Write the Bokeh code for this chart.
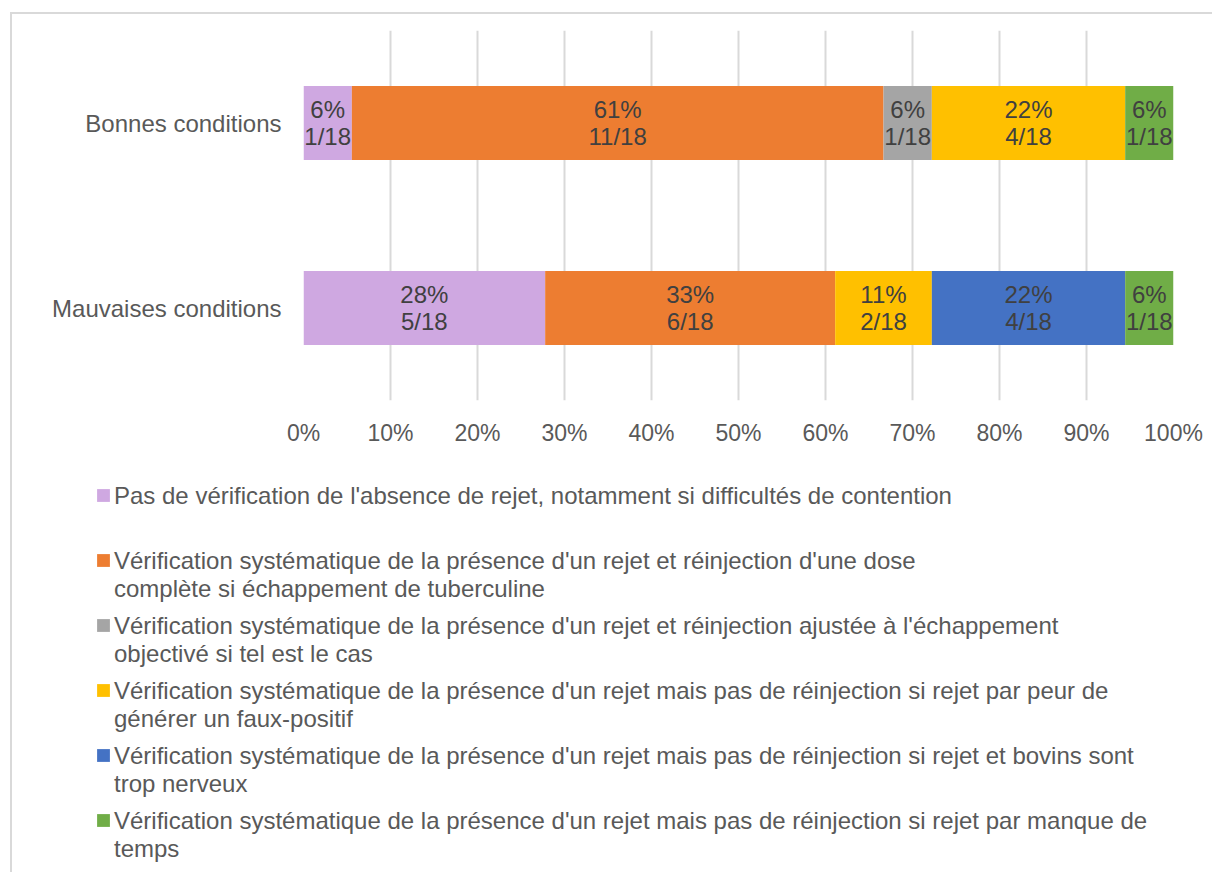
from bokeh.plotting import figure
from bokeh.layouts import column
from bokeh.models import (ColumnDataSource, FactorRange, Range1d, FixedTicker,
                          NumeralTickFormatter, Legend, LegendItem)
from bokeh.core.properties import value
from bokeh.embed import file_html
from bokeh.resources import INLINE

# ---------------- data ----------------
categories = ["Bonnes conditions", "Mauvaises conditions"]
total = 18
series_names = [
    "Pas de vérification de l'absence de rejet, notamment si difficultés de contention\n ",
    "Vérification systématique de la présence d'un rejet et réinjection d'une dose\ncomplète si échappement de tuberculine",
    "Vérification systématique de la présence d'un rejet et réinjection ajustée à l'échappement\nobjectivé si tel est le cas",
    "Vérification systématique de la présence d'un rejet mais pas de réinjection si rejet par peur de\ngénérer un faux-positif",
    "Vérification systématique de la présence d'un rejet mais pas de réinjection si rejet et bovins sont\ntrop nerveux",
    "Vérification systématique de la présence d'un rejet mais pas de réinjection si rejet par manque de\ntemps",
]
counts_pas_verif = [1, 5]
counts_reinj_complete = [11, 6]
counts_reinj_ajustee = [1, 0]
counts_peur_faux_pos = [4, 2]
counts_bovins_nerveux = [0, 4]
counts_manque_temps = [1, 1]
series_counts = [counts_pas_verif, counts_reinj_complete, counts_reinj_ajustee,
                 counts_peur_faux_pos, counts_bovins_nerveux, counts_manque_temps]
colors = ["#CFA8E1", "#ED7D31", "#A5A5A5", "#FFC000", "#4472C4", "#70AD47"]
x_ticks = [0, 0.1, 0.2, 0.3, 0.4, 0.5, 0.6, 0.7, 0.8, 0.9, 1.0]

FONT = "Liberation Sans"
W = 1200

stack_keys = [f"s{i}" for i in range(len(series_counts))]
data = {"cat": categories}
for k, c in zip(stack_keys, series_counts):
    data[k] = [v / total for v in c]
src = ColumnDataSource(data)

# ---------------- bar chart ----------------
p = figure(
    width=W, height=441,
    y_range=FactorRange(factors=list(reversed(categories))),
    x_range=Range1d(0, 1),
    output_backend="svg", toolbar_location=None,
    min_border_left=291, min_border_right=39,
    min_border_top=16, min_border_bottom=55,
)
p.frame_align = False
p.outline_line_color = None

p.hbar_stack(stack_keys, y="cat", height=0.4, color=colors,
             source=src, line_color=None)

# labels in the bars
lx, ly, lt = [], [], []
for ci, cat in enumerate(categories):
    cum = 0.0
    for c in series_counts:
        v = c[ci]
        if v > 0:
            lx.append((cum + v / 2) / total)
            ly.append(cat)
            lt.append(f"{round(v / total * 100)}%\n{v}/{total}")
        cum += v
p.text(x=lx, y=ly, text=lt, text_align="center", text_baseline="middle",
       text_font=value(FONT), text_font_size="24px", text_color="#404040",
       text_line_height=1.0)

p.xaxis.ticker = FixedTicker(ticks=x_ticks)
p.xaxis.formatter = NumeralTickFormatter(format="0%")
p.xaxis.axis_line_color = None
p.xaxis.major_tick_line_color = None
p.xaxis.minor_tick_line_color = None
p.xaxis.major_label_text_font = FONT
p.xaxis.major_label_text_font_size = "23px"
p.xaxis.major_label_text_color = "#595959"
p.xaxis.major_label_standoff = 13

p.yaxis.axis_line_color = None
p.yaxis.major_tick_line_color = None
p.yaxis.minor_tick_line_color = None
p.yaxis.major_label_text_font = FONT
p.yaxis.major_label_text_font_size = "24px"
p.yaxis.major_label_text_color = "#595959"
p.yaxis.major_label_standoff = 16

p.xgrid.grid_line_color = "#D9D9D9"
p.xgrid.grid_line_width = 2
p.ygrid.grid_line_color = None

# ---------------- legend panel ----------------
q = figure(width=W, height=417, x_range=Range1d(0, 1),
           y_range=FactorRange(factors=list(reversed(categories))),
           output_backend="svg", toolbar_location=None,
           min_border_left=83, min_border_top=27, min_border_right=0,
           min_border_bottom=0)
q.frame_align = False
q.outline_line_color = None
q.axis.visible = False
q.grid.grid_line_color = None
# same series, zero-height bars: they only carry the legend keys
keys = q.hbar_stack(stack_keys, y="cat", height=0, color=colors,
                    source=src, line_color=None)

common = dict(orientation="vertical", padding=0, margin=0,
              border_line_color=None, background_fill_alpha=0,
              label_text_font=FONT, label_text_font_size="24px",
              label_text_color="#595959", label_text_line_height=1.0)

# text part of the legend (keys drawn by the second legend)
legend_text = Legend(
    items=[LegendItem(label=n, renderers=[]) for n in series_names],
    location=(0, 9),
    glyph_width=1, glyph_height=1, label_standoff=18, label_height=20, spacing=9,
    **common,
)
# key squares, aligned with the first line of each entry
legend_keys = Legend(
    items=[LegendItem(label=" ", renderers=[r]) for r in keys],
    location=(0, 39),
    glyph_width=16, glyph_height=16, label_standoff=0, label_height=26, spacing=39,
    **common,
)
q.add_layout(legend_text, "center")
q.add_layout(legend_keys, "center")

layout = column(p, q, spacing=0)
layout.margin = (12, 0, 0, 10)
layout.styles = {"border-left": "2px solid #D9D9D9", "border-top": "2px solid #D9D9D9"}

open("out.html", "w").write(file_html(layout, INLINE))
